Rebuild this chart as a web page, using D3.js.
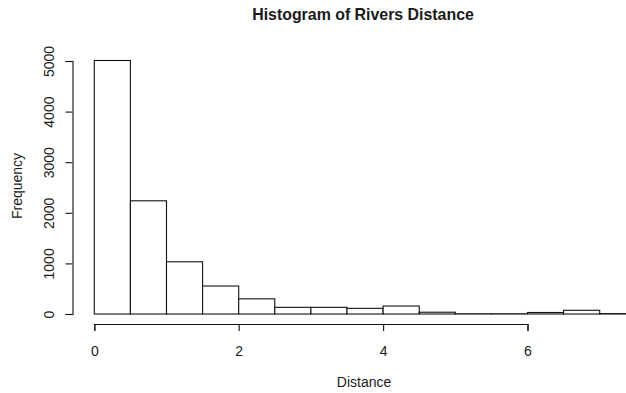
<!DOCTYPE html>
<html>
<head>
<meta charset="utf-8">
<script src="https://cdn.jsdelivr.net/npm/d3@7"></script>
<style>
  body { margin: 0; background: #fff; }
  svg { display: block; }
  text { font-family: "Liberation Sans", Arial, sans-serif; fill: #1a1a1a; }
</style>
</head>
<body>
<div id="chart"></div>
<script>
// bins of width 0.5 (left edges) and their counts
const binStarts = [0, 0.5, 1, 1.5, 2, 2.5, 3, 3.5, 4, 4.5, 5, 5.5, 6, 6.5, 7];
const counts = [5010, 2237, 1032, 553, 300, 132, 132, 112, 158, 35, 5, 5, 30, 73, 8];
const binWidth = 0.5;
const xTicks = [0, 2, 4, 6];
const yTicks = [0, 1000, 2000, 3000, 4000, 5000];

const width = 626, height = 393;

const svg = d3.select("#chart").append("svg")
  .attr("width", width)
  .attr("height", height);

const x = d3.scaleLinear().domain([0, 6]).range([94.3, 527.5]);
const y = d3.scaleLinear().domain([0, 5000]).range([314, 61]);

// bars
svg.append("g")
  .selectAll("rect")
  .data(binStarts.map((b, i) => ({ x0: b, x1: b + binWidth, n: counts[i] })))
  .join("rect")
  .attr("x", d => x(d.x0))
  .attr("y", d => y(d.n))
  .attr("width", d => x(d.x1) - x(d.x0))
  .attr("height", d => y(0) - y(d.n))
  .attr("fill", "#fff")
  .attr("stroke", "#111")
  .attr("stroke-width", 1.1);

// x axis
const xAxis = svg.append("g")
  .attr("transform", "translate(0,324)")
  .call(d3.axisBottom(x).tickValues(xTicks).tickSizeOuter(0).tickSize(7).tickFormat(d3.format("d")));
xAxis.selectAll("path, line").attr("stroke", "#111").attr("stroke-width", 1.1);
xAxis.selectAll("text")
  .attr("font-size", 14)
  .style("font-family", "Liberation Sans, Arial, sans-serif")
  .attr("fill", "#1a1a1a")
  .attr("y", 31.5)
  .attr("dy", 0);

// y axis
const yAxis = svg.append("g")
  .attr("transform", "translate(72.5,0)")
  .call(d3.axisLeft(y).tickValues(yTicks).tickSizeOuter(0).tickSize(7).tickFormat(d3.format("d")));
yAxis.selectAll("path, line").attr("stroke", "#111").attr("stroke-width", 1.1);
yAxis.selectAll("text")
  .attr("font-size", 14)
  .style("font-family", "Liberation Sans, Arial, sans-serif")
  .attr("fill", "#1a1a1a")
  .attr("text-anchor", "middle")
  .attr("x", 0)
  .attr("dy", 0)
  .attr("transform", "translate(-23,0) rotate(-90)")
  .attr("y", 4);

// titles
svg.append("text")
  .attr("x", 363)
  .attr("y", 19.5)
  .attr("text-anchor", "middle")
  .attr("font-size", 15.9)
  .attr("font-weight", "bold")
  .text("Histogram of Rivers Distance");

svg.append("text")
  .attr("x", 364)
  .attr("y", 387)
  .attr("text-anchor", "middle")
  .attr("font-size", 14)
  .text("Distance");

svg.append("text")
  .attr("transform", "translate(22,186) rotate(-90)")
  .attr("text-anchor", "middle")
  .attr("font-size", 14)
  .text("Frequency");
</script>
</body>
</html>
